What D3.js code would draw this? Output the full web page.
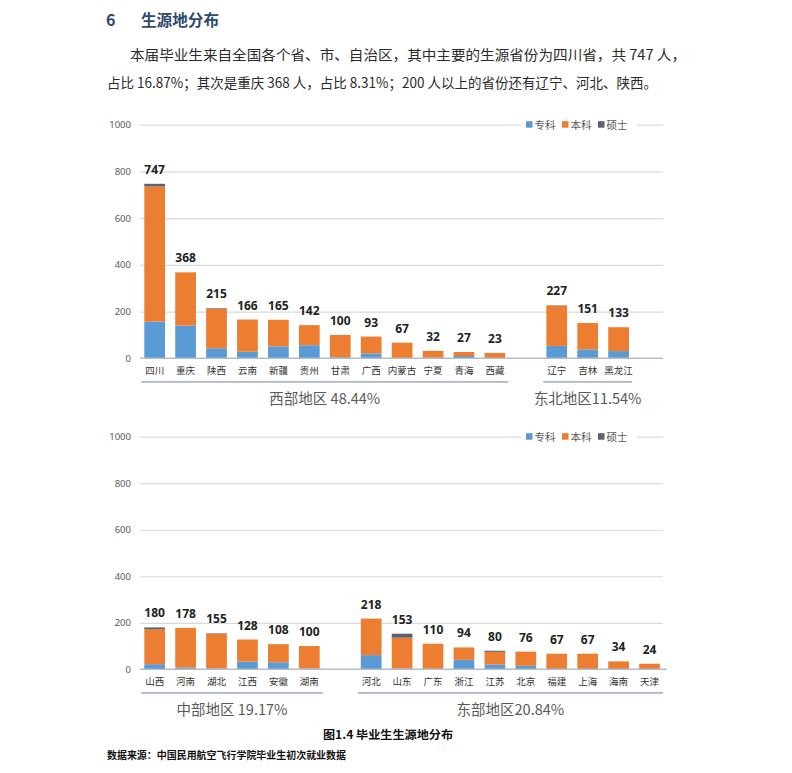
<!DOCTYPE html>
<html><head><meta charset="utf-8">
<script src="https://cdn.jsdelivr.net/npm/d3@7"></script>
<style>
html,body{margin:0;padding:0;background:#fff;}
svg{display:block;}
</style>
</head><body>
<svg id="page" width="792" height="773"></svg>
<script>
// ---------- data ----------
const seriesNames = ["专科", "本科", "硕士"];
const seriesColors = ["#5b9bd5", "#ed7d31", "#59616f"];
const yTicks = [0, 200, 400, 600, 800, 1000];

// top chart: west + northeast
const westCats = ["四川","重庆","陕西","云南","新疆","贵州","甘肃","广西","内蒙古","宁夏","青海","西藏"];
const westZhuanke = [157,140,43,28,51,56,5,21,1,2,10,1];
const westBenke   = [579,228,170,138,114,86,95,72,66,30,17,22];
const westShuoshi = [11,0,2,0,0,0,0,0,0,0,0,0];
const neCats = ["辽宁","吉林","黑龙江"];
const neZhuanke = [53,38,31];
const neBenke   = [173,113,102];
const neShuoshi = [1,0,0];

// bottom chart: central + east
const centralCats = ["山西","河南","湖北","江西","安徽","湖南"];
const centralZhuanke = [22,8,4,33,30,3];
const centralBenke   = [150,170,149,95,78,97];
const centralShuoshi = [8,0,2,0,0,0];
const eastCats = ["河北","山东","广东","浙江","江苏","北京","福建","上海","海南","天津"];
const eastZhuanke = [61,3,2,41,21,15,1,1,0,0];
const eastBenke   = [157,133,108,53,54,61,66,66,34,24];
const eastShuoshi = [0,17,0,0,5,0,0,0,0,0];

const regionLabels = ["西部地区 48.44%", "东北地区11.54%", "中部地区 19.17%", "东部地区20.84%"];

const headingNum = "6";
const headingText = "生源地分布";
const paraLine1 = "本届毕业生来自全国各个省、市、自治区，其中主要的生源省份为四川省，共 747 人，";
const paraLine2 = "占比 16.87%；其次是重庆 368 人，占比 8.31%；200 人以上的省份还有辽宁、河北、陕西。";
const captionText = "图1.4 毕业生生源地分布";
const sourceText = "数据来源：中国民用航空飞行学院毕业生初次就业数据";

// ---------- helpers ----------
function makeRows(cats, z, b, s) {
  return cats.map((c, i) => ({cat: c, "专科": z[i], "本科": b[i], "硕士": s[i]}));
}

const svg = d3.select("#page");
const CJK = "'Noto Sans CJK SC','Noto Sans',sans-serif";

// heading
svg.append("text").attr("x", 106).attr("y", 26).text(headingNum)
  .attr("font-family", CJK).attr("font-size", 16).attr("font-weight", "bold").attr("fill", "#2e4a6c");
svg.append("text").attr("x", 141).attr("y", 26).text(headingText)
  .attr("font-family", CJK).attr("font-size", 15.5).attr("font-weight", "bold").attr("fill", "#2e4a6c")
  .attr("textLength", 78).attr("lengthAdjust", "spacingAndGlyphs");

// paragraph
svg.append("text").attr("x", 130).attr("y", 60).text(paraLine1)
  .attr("font-family", CJK).attr("font-size", 14).attr("fill", "#2b2b2b")
  .attr("textLength", 556).attr("lengthAdjust", "spacingAndGlyphs");
svg.append("text").attr("x", 107).attr("y", 88).text(paraLine2)
  .attr("font-family", CJK).attr("font-size", 14).attr("fill", "#2b2b2b")
  .attr("textLength", 550).attr("lengthAdjust", "spacingAndGlyphs");

function drawChart(cfg) {
  const g = svg.append("g");
  const rowsA = makeRows(...cfg.groupA);
  const rowsB = makeRows(...cfg.groupB);
  const domain = [...rowsA.map(d => d.cat), "_gap", ...rowsB.map(d => d.cat)];
  if (cfg.trailing) domain.push("_end");
  const x = d3.scaleBand().domain(domain).range([139.2, 665])
    .paddingInner(0.33).paddingOuter(0.165);
  const y = d3.scaleLinear().domain([0, 1000]).range([cfg.y0, cfg.y1]);

  // gridlines
  const grid = g.append("g").attr("transform", "translate(140,0)")
    .call(d3.axisLeft(y).tickValues(yTicks.filter(t => t > 0)).tickSize(-523).tickFormat(""));
  grid.select(".domain").remove();
  grid.selectAll("line").attr("stroke", "#d9d9d9").attr("stroke-width", 1.2);

  // y tick labels
  const ya = g.append("g").attr("transform", "translate(131,0)")
    .call(d3.axisLeft(y).tickValues(yTicks).tickSize(0).tickPadding(0).tickFormat(d3.format("d")));
  ya.select(".domain").remove();
  ya.selectAll("text").attr("font-family", "'Noto Sans',sans-serif").attr("font-size", 9.5).attr("fill", "#595959");

  // bars
  const rows = [...rowsA, ...rowsB];
  const stack = d3.stack().keys(seriesNames)(rows);
  g.append("g").selectAll("g").data(stack).join("g")
    .attr("fill", (d, i) => seriesColors[i])
    .selectAll("rect").data(d => d).join("rect")
    .attr("x", d => x(d.data.cat))
    .attr("width", x.bandwidth())
    .attr("y", d => y(d[1]))
    .attr("height", d => Math.max(0, y(d[0]) - y(d[1])));

  // x axis
  const xa = g.append("g").attr("transform", `translate(0,${cfg.y0})`)
    .call(d3.axisBottom(x).tickSize(0).tickPadding(9)
      .tickFormat(d => d.startsWith("_") ? "" : d));
  xa.select(".domain").attr("d", `M140,0H${cfg.axisEnd}`).attr("stroke", "#b4bcc9").attr("stroke-width", 1.5);
  xa.selectAll("text").attr("font-family", CJK).attr("font-size", 9.5).attr("fill", "#333");

  // value labels
  g.append("g").selectAll("text").data(rows).join("text")
    .attr("x", d => x(d.cat) + x.bandwidth() / 2)
    .attr("y", d => y(seriesNames.reduce((s, k) => s + d[k], 0)) - 10)
    .attr("text-anchor", "middle")
    .attr("font-family", "'Noto Sans','Open Sans',sans-serif").attr("font-weight", "bold")
    .attr("font-size", 12).attr("fill", "#222")
    .text(d => seriesNames.reduce((s, k) => s + d[k], 0));

  // group underlines + region labels
  const pad = (x.step() - x.bandwidth()) / 2;
  [[rowsA, cfg.labels[0]], [rowsB, cfg.labels[1]]].forEach(([rs, lab]) => {
    const x0 = x(rs[0].cat) - pad + 2;
    const x1 = x(rs[rs.length - 1].cat) + x.bandwidth() + pad - 2;
    g.append("line").attr("x1", x0).attr("x2", x1)
      .attr("y1", cfg.y0 + 23.5).attr("y2", cfg.y0 + 23.5)
      .attr("stroke", "#aab5c6").attr("stroke-width", 1.8);
    g.append("text").attr("x", (x0 + x1) / 2).attr("y", cfg.y0 + 46)
      .attr("text-anchor", "middle")
      .attr("font-family", CJK).attr("font-size", 14.5).attr("fill", "#595959")
      .text(lab);
  });

  // legend
  const ly = y(1000);
  g.append("rect").attr("x", 521).attr("y", ly - 7).attr("width", 116).attr("height", 14).attr("fill", "#fff");
  const legX = [526, 562, 598];
  seriesNames.forEach((s, i) => {
    g.append("rect").attr("x", legX[i]).attr("y", ly - 3.5).attr("width", 6.5).attr("height", 6.5).attr("fill", seriesColors[i]);
    g.append("text").attr("x", legX[i] + 8.5).attr("y", ly + 4).text(s)
      .attr("font-family", CJK).attr("font-size", 10.5).attr("fill", "#595959");
  });
}

drawChart({
  groupA: [westCats, westZhuanke, westBenke, westShuoshi],
  groupB: [neCats, neZhuanke, neBenke, neShuoshi],
  labels: [regionLabels[0], regionLabels[1]],
  trailing: true, y0: 358.3, y1: 124.7, axisEnd: 663
});
drawChart({
  groupA: [centralCats, centralZhuanke, centralBenke, centralShuoshi],
  groupB: [eastCats, eastZhuanke, eastBenke, eastShuoshi],
  labels: [regionLabels[2], regionLabels[3]],
  trailing: false, y0: 669.3, y1: 436.7, axisEnd: 667
});

// caption & source
svg.append("text").attr("x", 388).attr("y", 739).attr("text-anchor", "middle").text(captionText)
  .attr("font-family", CJK).attr("font-size", 11.5).attr("font-weight", "bold").attr("fill", "#111")
  .attr("textLength", 130).attr("lengthAdjust", "spacingAndGlyphs");
svg.append("text").attr("x", 107).attr("y", 759).text(sourceText)
  .attr("font-family", CJK).attr("font-size", 10).attr("font-weight", "bold").attr("fill", "#111")
  .attr("textLength", 239).attr("lengthAdjust", "spacingAndGlyphs");
</script>
</body></html>
